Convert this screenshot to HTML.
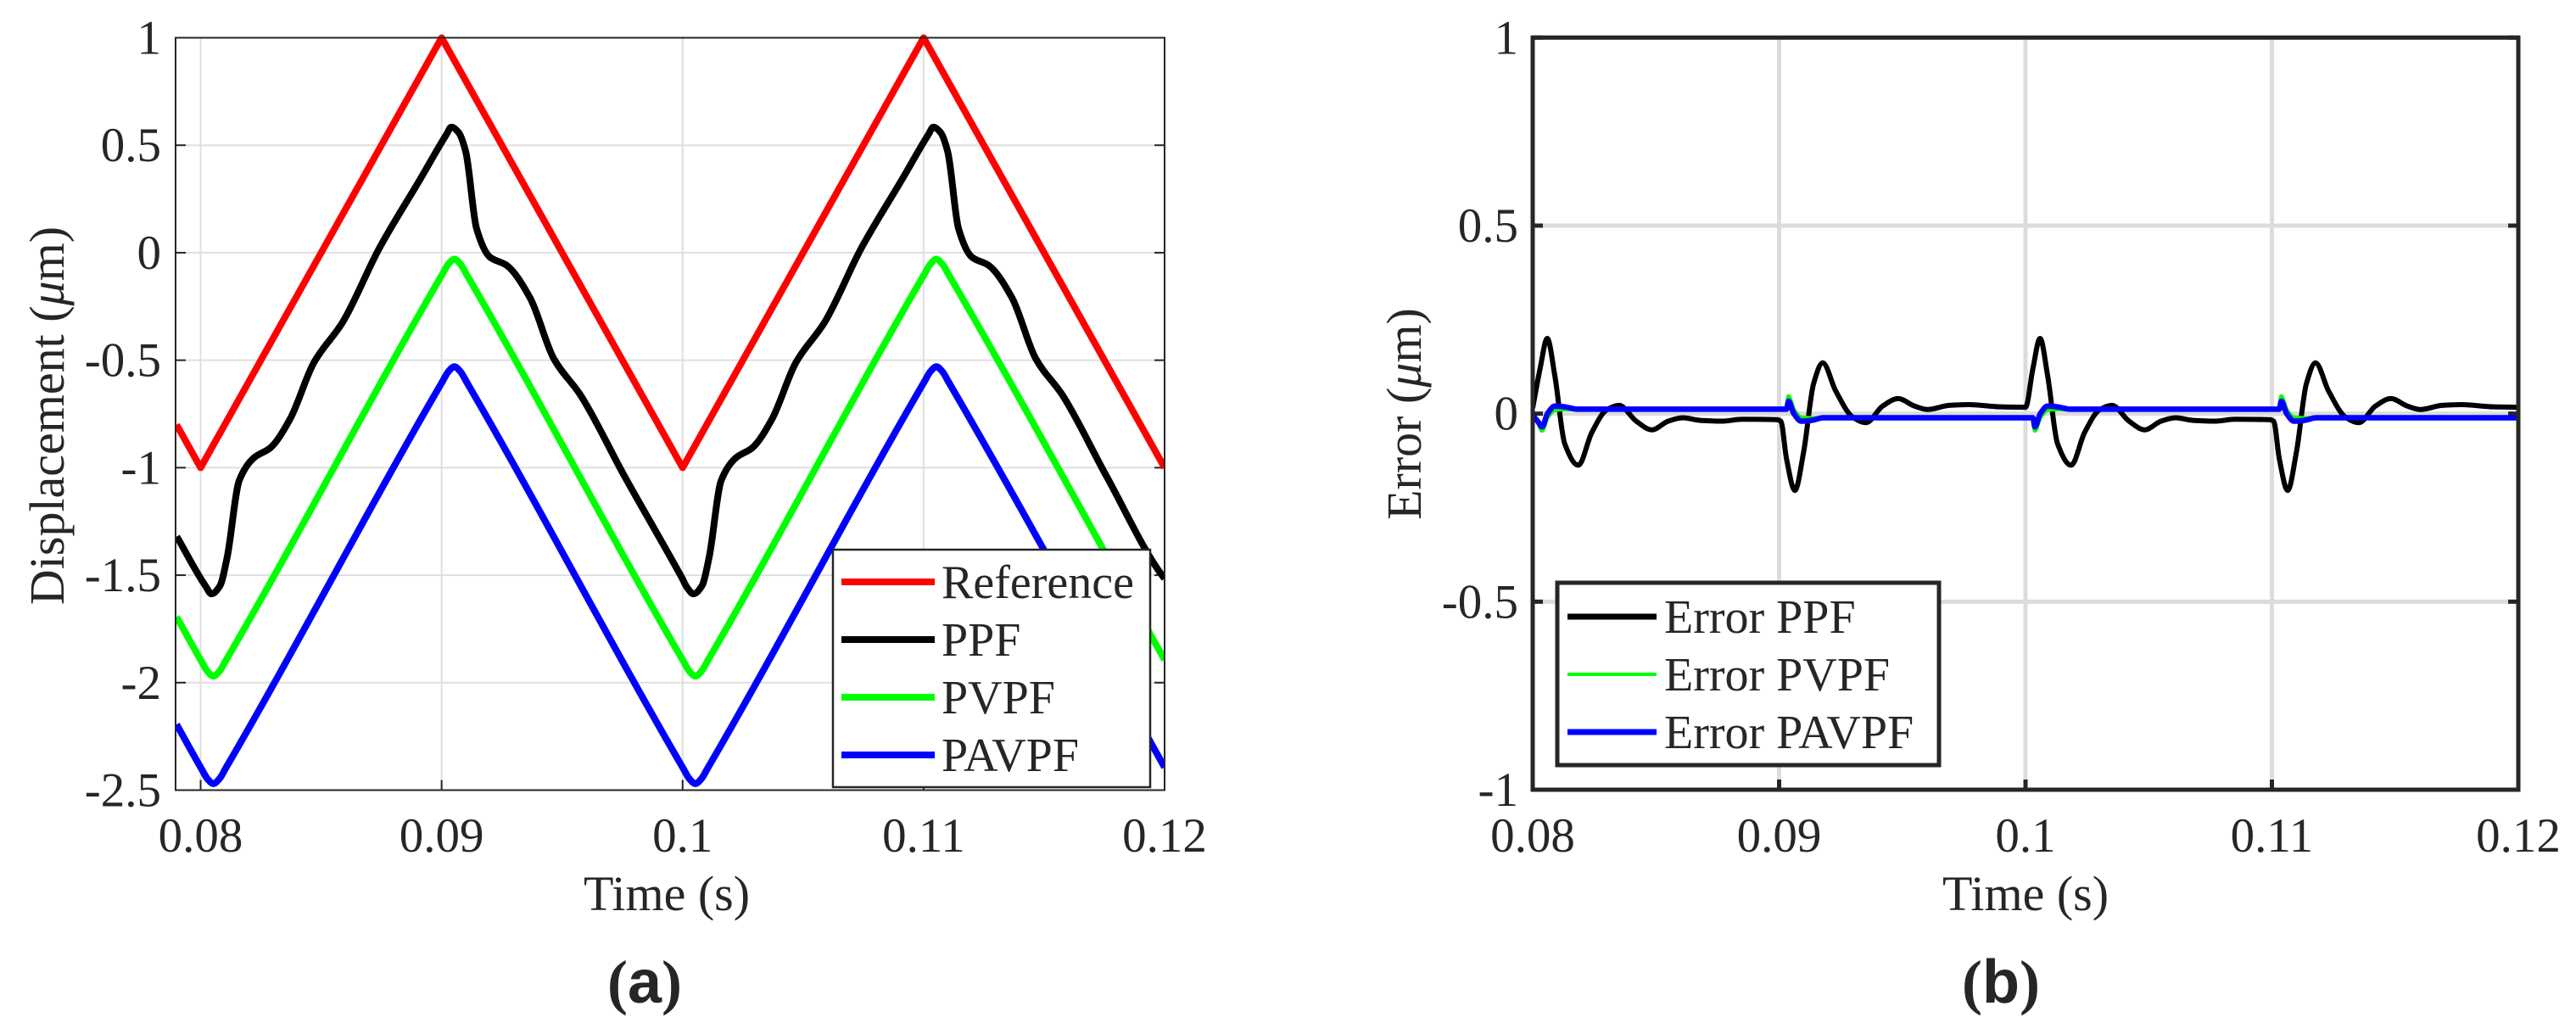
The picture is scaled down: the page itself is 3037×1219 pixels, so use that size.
<!DOCTYPE html>
<html><head><meta charset="utf-8"><style>
html,body{margin:0;padding:0;background:#fff;}
svg{display:block;}
text{font-family:"Liberation Serif",serif;fill:#262626;}
</style></head><body>
<svg id="fig" width="3037" height="1219" viewBox="0 0 3037 1219" xmlns="http://www.w3.org/2000/svg">
<g id="pa"></g>
<g id="pb"></g>
</svg>
<script>
// ---------- Panel (a) data ----------
const xTicksA = [0.08, 0.09, 0.1, 0.11, 0.12];
const xTickLabelsA = ["0.08", "0.09", "0.1", "0.11", "0.12"];
const yTicksA = [1, 0.5, 0, -0.5, -1, -1.5, -2, -2.5];
const yTickLabelsA = ["1", "0.5", "0", "-0.5", "-1", "-1.5", "-2", "-2.5"];
const refT = [0.079, 0.08, 0.09, 0.1, 0.11, 0.12];
const refV = [-0.8, -1, 1, -1, 1, -1];
const ppfT = [0.07901,0.0802,0.08045,0.0808,0.0811,0.0816,0.0822,0.0829,0.0837,0.0847,0.0859,0.0874,0.0891,0.0902,0.0904,0.0907,0.0910,0.09145,0.0920,0.09269,0.09367,0.09465,0.09576,0.09759,0.09996,0.1002,0.10045,0.1008,0.1011,0.1016,0.1022,0.1029,0.1037,0.1047,0.1059,0.1074,0.1091,0.1102,0.1104,0.1107,0.1110,0.11145,0.1120,0.11269,0.11367,0.11465,0.11576,0.11759,0.11996,0.12];
const ppfV = [-1.32,-1.55,-1.587,-1.55,-1.417,-1.06,-0.955,-0.907,-0.776,-0.511,-0.322,0.018,0.34,0.55,0.584,0.56,0.47,0.112,-0.02,-0.058,-0.21,-0.492,-0.662,-1.04,-1.51,-1.56,-1.587,-1.55,-1.417,-1.06,-0.955,-0.907,-0.776,-0.511,-0.322,0.018,0.34,0.55,0.584,0.56,0.47,0.112,-0.02,-0.058,-0.21,-0.492,-0.662,-1.04,-1.51,-1.515];
const pvpfT = [0.079,0.08003,0.08028,0.08053,0.08078,0.08103,0.09003,0.09028,0.09053,0.09078,0.09103,0.10003,0.10028,0.10053,0.10078,0.10103,0.11003,0.11028,0.11053,0.11078,0.11103,0.12];
const pvpfV = [-1.694,-1.9,-1.947,-1.97,-1.947,-1.9,-0.1,-0.053,-0.03,-0.053,-0.1,-1.9,-1.947,-1.97,-1.947,-1.9,-0.1,-0.053,-0.03,-0.053,-0.1,-1.894];
const pavpfT = [0.079,0.08003,0.08028,0.08053,0.08078,0.08103,0.09003,0.09028,0.09053,0.09078,0.09103,0.10003,0.10028,0.10053,0.10078,0.10103,0.11003,0.11028,0.11053,0.11078,0.11103,0.12];
const pavpfV = [-2.194,-2.4,-2.447,-2.47,-2.447,-2.4,-0.6,-0.553,-0.53,-0.553,-0.6,-2.4,-2.447,-2.47,-2.447,-2.4,-0.6,-0.553,-0.53,-0.553,-0.6,-2.394];
const legendA = ["Reference", "PPF", "PVPF", "PAVPF"];

// ---------- Panel (b) data ----------
const xTicksB = [0.08, 0.09, 0.1, 0.11, 0.12];
const xTickLabelsB = ["0.08", "0.09", "0.1", "0.11", "0.12"];
const yTicksB = [1, 0.5, 0, -0.5, -1];
const yTickLabelsB = ["1", "0.5", "0", "-0.5", "-1"];
const errPpfT = [0.08,0.0803,0.08059,0.0809,0.0813,0.08185,0.0824,0.0830,0.08351,0.0842,0.08484,0.0855,0.08609,0.0868,0.08767,0.0885,0.0899,0.09007,0.0903,0.09064,0.0910,0.0914,0.09177,0.0923,0.0930,0.09353,0.0942,0.09483,0.0955,0.09603,0.0969,0.09769,0.0990,0.10,0.1003,0.10059,0.1009,0.1013,0.10185,0.1024,0.1030,0.10351,0.1042,0.10484,0.1055,0.10609,0.1068,0.10767,0.1085,0.1099,0.11007,0.1103,0.11064,0.1110,0.1114,0.11177,0.1123,0.1130,0.11353,0.1142,0.11483,0.1155,0.11603,0.1169,0.11769,0.1190,0.12];
const errPpfV = [0.015,0.12,0.2,0.1,-0.08,-0.137,-0.05,0.01,0.022,-0.02,-0.043,-0.02,-0.011,-0.018,-0.02,-0.015,-0.016,-0.02,-0.12,-0.204,-0.1,0.08,0.135,0.06,-0.01,-0.024,0.02,0.04,0.02,0.011,0.022,0.024,0.018,0.017,0.12,0.2,0.1,-0.08,-0.137,-0.05,0.01,0.022,-0.02,-0.043,-0.02,-0.011,-0.018,-0.02,-0.015,-0.016,-0.02,-0.12,-0.204,-0.1,0.08,0.135,0.06,-0.01,-0.024,0.02,0.04,0.02,0.011,0.022,0.024,0.018,0.017];
const errPvpfT = [0.08,0.0802,0.08038,0.0806,0.0809,0.0814,0.0820,0.0903,0.09038,0.0906,0.0909,0.0914,0.0920,0.1003,0.10038,0.1006,0.1009,0.1014,0.1020,0.1103,0.11038,0.1106,0.1109,0.1114,0.1120,0.12];
const errPvpfV = [-0.005,-0.02,-0.045,-0.01,0.01,0.012,0.012,0.012,0.046,0.01,-0.01,-0.012,-0.011,-0.011,-0.045,-0.01,0.01,0.012,0.012,0.012,0.046,0.01,-0.01,-0.012,-0.011,-0.011];
const errPavpfT = [0.08,0.0802,0.08038,0.0806,0.0809,0.0813,0.0818,0.0903,0.09038,0.0906,0.0909,0.0913,0.0918,0.1003,0.10038,0.1006,0.1009,0.1013,0.1018,0.1103,0.11038,0.1106,0.1109,0.1113,0.1118,0.12];
const errPavpfV = [-0.005,-0.02,-0.035,0.0,0.02,0.018,0.012,0.012,0.033,0.0,-0.02,-0.018,-0.011,-0.011,-0.035,0.0,0.02,0.018,0.012,0.012,0.033,0.0,-0.02,-0.018,-0.011,-0.011];
const legendB = ["Error PPF", "Error PVPF", "Error PAVPF"];

const NS = "http://www.w3.org/2000/svg";
function mk(parent, tag, attrs, txt){
  const e = document.createElementNS(NS, tag);
  for (const k in attrs) e.setAttribute(k, attrs[k]);
  if (txt !== undefined) e.textContent = txt;
  parent.appendChild(e);
  return e;
}
// monotone cubic (Fritsch-Carlson), parameterised by x -> no loops
function smoothPath(pts){
  const n = pts.length;
  if (n < 2) return "";
  const dx = [], m = [], s = [];
  for (let i = 0; i < n-1; i++){ dx[i] = pts[i+1][0]-pts[i][0]; s[i] = (pts[i+1][1]-pts[i][1]) / dx[i]; }
  m[0] = s[0]; m[n-1] = s[n-2];
  for (let i = 1; i < n-1; i++){
    if (s[i-1]*s[i] <= 0) m[i] = 0;
    else { const w1 = 2*dx[i]+dx[i-1], w2 = dx[i]+2*dx[i-1]; m[i] = (w1+w2)/(w1/s[i-1]+w2/s[i]); }
  }
  let d = "M" + pts[0][0].toFixed(2) + "," + pts[0][1].toFixed(2);
  for (let i = 0; i < n-1; i++){
    const h = dx[i];
    d += "C" + (pts[i][0]+h/3).toFixed(2)+","+(pts[i][1]+m[i]*h/3).toFixed(2)+" "+(pts[i+1][0]-h/3).toFixed(2)+","+(pts[i+1][1]-m[i+1]*h/3).toFixed(2)+" "+pts[i+1][0].toFixed(2)+","+pts[i+1][1].toFixed(2);
  }
  return d;
}
function linePath(pts){
  return pts.map((p,i)=>(i?"L":"M")+p[0].toFixed(2)+","+p[1].toFixed(2)).join("");
}

// ---------- Panel (a) ----------
(function(){
  const g = document.getElementById("pa");
  const L = 207, R = 1373, T = 44.5, B = 931.5;
  const xmin = 0.07896, xmax = 0.12, ymin = -2.5, ymax = 1;
  const X = t => L + (t - xmin) / (xmax - xmin) * (R - L);
  const Y = v => T + (ymax - v) / (ymax - ymin) * (B - T);
  const clip = mk(g, "clipPath", {id:"clipA"});
  mk(clip, "rect", {x:L, y:T-5, width:R-L, height:B-T+10});
  xTicksA.forEach((t,i)=>{
    const gl = mk(g, "line", {x1:X(t), x2:X(t), y1:T, y2:B, stroke:"#dfdfdf", "stroke-width":2});
    
    
    const tk = mk(g, "line", {x1:X(t), x2:X(t), y1:B, y2:B-12, stroke:"#262626", "stroke-width":2});
    
    
    const lb = mk(g, "text", {x:X(t), y:1004, "font-size":57, "text-anchor":"middle"}, xTickLabelsA[i]);
    
    
  });
  yTicksA.forEach((v,i)=>{
    const gl = mk(g, "line", {x1:L, x2:R, y1:Y(v), y2:Y(v), stroke:"#dfdfdf", "stroke-width":2});
    
    
    const tk = mk(g, "line", {x1:L, x2:L+12, y1:Y(v), y2:Y(v), stroke:"#262626", "stroke-width":2});
    
    
    const tk2 = mk(g, "line", {x1:R, x2:R-12, y1:Y(v), y2:Y(v), stroke:"#262626", "stroke-width":2});
    
    
    const lb = mk(g, "text", {x:190, y:Y(v)+19, "font-size":57, "text-anchor":"end"}, yTickLabelsA[i]);
    
    
  });
  const series = [
    {t:refT, v:refV, c:"#ff0000", n:"series-reference", smooth:false},
    {t:ppfT, v:ppfV, c:"#000000", n:"series-ppf", smooth:true},
    {t:pvpfT, v:pvpfV, c:"#00ff00", n:"series-pvpf", smooth:true},
    {t:pavpfT, v:pavpfV, c:"#0000ff", n:"series-pavpf", smooth:true}
  ];
  series.forEach(s=>{
    const pts = s.t.map((t,i)=>[X(t), Y(s.v[i])]);
    const p = mk(g, "path", {d: s.smooth ? smoothPath(pts) : linePath(pts), fill:"none", stroke:s.c, "stroke-width":8, "stroke-linejoin":"round", "clip-path":"url(#clipA)"});
    
    
  });
  const box = mk(g, "rect", {x:L, y:T, width:R-L, height:B-T, fill:"none", stroke:"#262626", "stroke-width":2});
  
  
  const lg = mk(g, "g", {});
  
  
  mk(lg, "rect", {x:982, y:648, width:374, height:280, fill:"#fff", stroke:"#262626", "stroke-width":2.5});
  const lc = ["#ff0000","#000000","#00ff00","#0000ff"];
  const ly = [686, 754, 822, 890];
  legendA.forEach((name,i)=>{
    const e = mk(lg, "g", {});
    
    
    mk(e, "line", {x1:992, x2:1102, y1:ly[i], y2:ly[i], stroke:lc[i], "stroke-width":8});
    mk(e, "text", {x:1110, y:ly[i]+19, "font-size":56, fill:"#000"}, name);
  });
  const xl = mk(g, "text", {x:786, y:1073, "font-size":58, "text-anchor":"middle"}, "Time (s)");
  
  
  const yl = mk(g, "text", {x:0, y:0, "font-size":58, "text-anchor":"middle", transform:"translate(75,490) rotate(-90)"});
  
  
  yl.innerHTML = 'Displacement (<tspan font-style="italic">μ</tspan>m)';
  const cap = mk(g, "text", {x:760, y:1182, "font-size":72, "text-anchor":"middle", "font-weight":"bold", fill:"#000"});
  
  
  cap.innerHTML = '(<tspan font-family="Liberation Sans, sans-serif">a</tspan>)';
})();

// ---------- Panel (b) ----------
(function(){
  const g = document.getElementById("pb");
  const L = 1807, R = 2969, T = 44.3, B = 931;
  const xmin = 0.08, xmax = 0.12, ymin = -1, ymax = 1;
  const X = t => L + (t - xmin) / (xmax - xmin) * (R - L);
  const Y = v => T + (ymax - v) / (ymax - ymin) * (B - T);
  const clip = mk(g, "clipPath", {id:"clipB"});
  mk(clip, "rect", {x:L, y:T, width:R-L, height:B-T});
  xTicksB.forEach((t,i)=>{
    const gl = mk(g, "line", {x1:X(t), x2:X(t), y1:T, y2:B, stroke:"#dcdcdc", "stroke-width":5});
    
    
    const tk = mk(g, "line", {x1:X(t), x2:X(t), y1:B, y2:B-12, stroke:"#262626", "stroke-width":5});
    
    
    const lb = mk(g, "text", {x:X(t), y:1004, "font-size":57, "text-anchor":"middle"}, xTickLabelsB[i]);
    
    
  });
  yTicksB.forEach((v,i)=>{
    const gl = mk(g, "line", {x1:L, x2:R, y1:Y(v), y2:Y(v), stroke:"#dcdcdc", "stroke-width":5});
    
    
    const tk = mk(g, "line", {x1:L, x2:L+12, y1:Y(v), y2:Y(v), stroke:"#262626", "stroke-width":5});
    
    
    const tk2 = mk(g, "line", {x1:R, x2:R-12, y1:Y(v), y2:Y(v), stroke:"#262626", "stroke-width":5});
    
    
    const lb = mk(g, "text", {x:1790, y:Y(v)+19, "font-size":57, "text-anchor":"end"}, yTickLabelsB[i]);
    
    
  });
  const series = [
    {t:errPpfT, v:errPpfV, c:"#000000", w:6, n:"series-error-ppf"},
    {t:errPvpfT, v:errPvpfV, c:"#00ff00", w:5, n:"series-error-pvpf"},
    {t:errPavpfT, v:errPavpfV, c:"#0000ff", w:6.5, n:"series-error-pavpf"}
  ];
  series.forEach(s=>{
    const pts = s.t.map((t,i)=>[X(t), Y(s.v[i])]);
    const p = mk(g, "path", {d: smoothPath(pts), fill:"none", stroke:s.c, "stroke-width":s.w, "stroke-linejoin":"round", "clip-path":"url(#clipB)"});
    
    
  });
  const box = mk(g, "rect", {x:L, y:T, width:R-L, height:B-T, fill:"none", stroke:"#262626", "stroke-width":5});
  
  
  const lg = mk(g, "g", {});
  
  
  mk(lg, "rect", {x:1836, y:687, width:450, height:215, fill:"#fff", stroke:"#262626", "stroke-width":5});
  const lc = ["#000000","#00ff00","#0000ff"];
  const lw = [7, 4, 7];
  const ly = [727, 795, 863];
  legendB.forEach((name,i)=>{
    const e = mk(lg, "g", {});
    
    
    mk(e, "line", {x1:1848, x2:1953, y1:ly[i], y2:ly[i], stroke:lc[i], "stroke-width":lw[i]});
    mk(e, "text", {x:1962, y:ly[i]+19, "font-size":56, fill:"#000"}, name);
  });
  const xl = mk(g, "text", {x:2388, y:1073, "font-size":58, "text-anchor":"middle"}, "Time (s)");
  
  
  const yl = mk(g, "text", {x:0, y:0, "font-size":58, "text-anchor":"middle", transform:"translate(1675,488) rotate(-90)"});
  
  
  yl.innerHTML = 'Error (<tspan font-style="italic">μ</tspan>m)';
  const cap = mk(g, "text", {x:2359, y:1182, "font-size":72, "text-anchor":"middle", "font-weight":"bold", fill:"#000"});
  
  
  cap.innerHTML = '(<tspan font-family="Liberation Sans, sans-serif">b</tspan>)';
})();
</script>
</body></html>
